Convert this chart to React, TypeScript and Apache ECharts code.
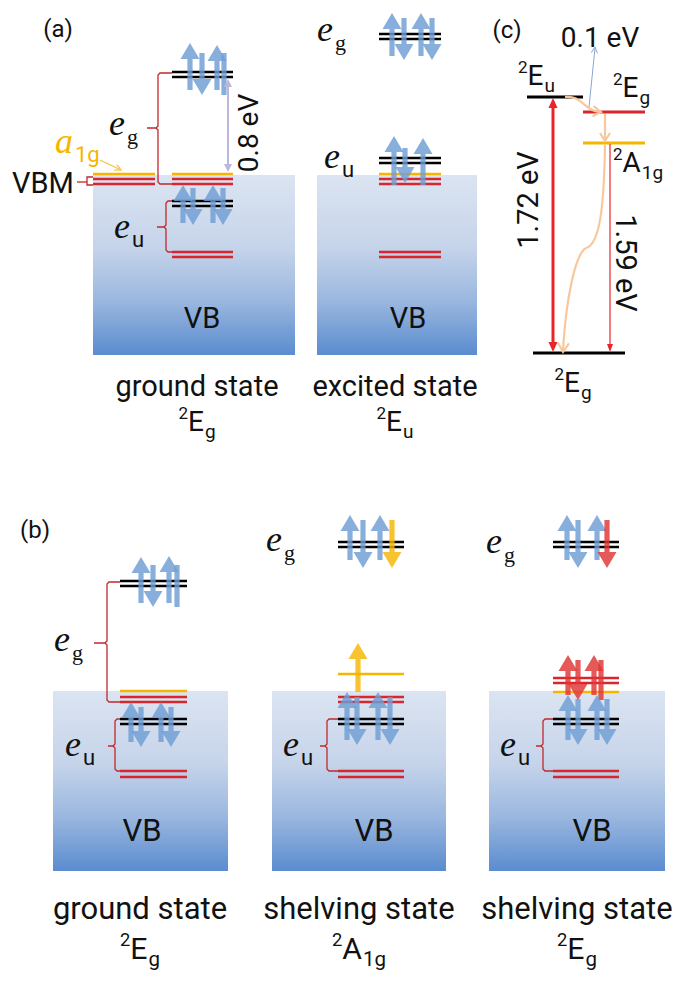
import React, { useEffect, useRef } from "react";
import * as echarts from "echarts";

// ---------- content ----------
const panelTags = ["(a)", "(b)", "(c)"];
const statesA = ["ground state", "excited state"];
const termsA: [string, string][] = [["E", "g"], ["E", "u"]];
const statesB = ["ground state", "shelving state", "shelving state"];
const termsB: [string, string][] = [["E", "g"], ["A", "1g"], ["E", "g"]];
const gapLabels = ["0.8 eV", "0.1 eV", "1.72 eV", "1.59 eV"];
const termsC: [string, string][] = [["E", "u"], ["E", "g"], ["A", "1g"], ["E", "g"]];
const orbitalNames = ["g", "u", "1g"];

const SANS = "Roboto, 'Open Sans', sans-serif";
const SERIF = "'Liberation Serif', 'DejaVu Serif', serif";
const BLUE = "#6e9dd4";
const RED = "#d8262d";
const GOLD = "#f5b600";
const K = "#000000";
const Y = GOLD;
const R = RED;

let _ctx: any = null;
function tw(text: string, size: number, family: string, style = "normal") {
  if (!_ctx) _ctx = document.createElement("canvas").getContext("2d");
  _ctx.font = `${style} ${size}px ${family}`;
  return _ctx.measureText(text).width;
}

function txt(x: number, y: number, text: string, size: number, o: any = {}) {
  return {
    type: "text",
    z: 10,
    x,
    y,
    rotation: o.rot || 0,
    style: {
      text,
      fontSize: size,
      fontFamily: o.family || SANS,
      fontStyle: o.italic ? "italic" : "normal",
      fill: o.color || "#111",
      align: o.align || "left",
      verticalAlign: "middle",
    },
  };
}

function term(x: number, cy: number, main: string, sub: string, anchor: "left" | "center", scale = 1) {
  const s1 = 17 * scale, s2 = 28 * scale, s3 = 19 * scale;
  const w1 = tw("2", s1, SANS), w2 = tw(main, s2, SANS), w3 = tw(sub, s3, SANS);
  const total = w1 + w2 + w3 + 1;
  const x0 = anchor === "center" ? x - total / 2 : x;
  return [
    txt(x0, cy - 8 * scale, "2", s1),
    txt(x0 + w1, cy, main, s2),
    txt(x0 + w1 + w2 + 1, cy + 10 * scale, sub, s3),
  ];
}

function eLab(left: number, cy: number, sub: string, color = "#111", main = "e") {
  const s = 36;
  const w = tw(main, s, SERIF, "italic");
  const subFam = sub === "g" ? SERIF : SANS;
  return [
    txt(left, cy - 4, main, s, { family: SERIF, italic: true, color }),
    txt(left + w + 2, cy + 9, sub, 22, { family: subFam, color }),
  ];
}

function hline(x1: number, x2: number, y: number, color: string, lw = 2.5) {
  return { type: "line", z: 2, shape: { x1, y1: y, x2, y2: y }, style: { stroke: color, lineWidth: lw } };
}

function blockArrow(x: number, y1: number, y2: number, dir: string, color: string) {
  const hw = 9.5, hh = 16, sw = 2.6;
  let pts: number[][];
  if (dir === "up") {
    const t = y1;
    pts = [[x, t], [x + hw, t + hh], [x + sw, t + hh], [x + sw, y2], [x - sw, y2], [x - sw, t + hh], [x - hw, t + hh]];
  } else if (dir === "down") {
    const t = y2;
    pts = [[x, t], [x + hw, t - hh], [x + sw, t - hh], [x + sw, y1], [x - sw, y1], [x - sw, t - hh], [x - hw, t - hh]];
  } else {
    pts = [[x - sw, y1], [x + sw, y1], [x + sw, y2], [x - sw, y2]];
  }
  return { type: "polygon", z: 3, shape: { points: pts }, style: { fill: color, opacity: 0.82 } };
}

function tri(x: number, y: number, ang: number, len: number, wid: number, color: string) {
  const c = Math.cos(ang), s = Math.sin(ang);
  const bx = x - len * c, by = y - len * s;
  const px = -s * wid / 2, py = c * wid / 2;
  return { type: "polygon", z: 5, shape: { points: [[x, y], [bx + px, by + py], [bx - px, by - py]] }, style: { fill: color } };
}

function chev(x: number, y: number, ang: number, len: number, wid: number, color: string, lw: number) {
  const c = Math.cos(ang), s = Math.sin(ang);
  const bx = x - len * c, by = y - len * s;
  const px = -s * wid / 2, py = c * wid / 2;
  return { type: "polyline", z: 5, shape: { points: [[bx + px, by + py], [x, y], [bx - px, by - py]] }, style: { stroke: color, lineWidth: lw, fill: null } };
}

function seg(x1: number, y1: number, x2: number, y2: number, color: string, lw: number) {
  return { type: "line", z: 5, shape: { x1, y1, x2, y2 }, style: { stroke: color, lineWidth: lw } };
}

function brace(lx: number, vx: number, top: number, bot: number, mid: number, tickX: number) {
  const st = { stroke: "#c0282d", lineWidth: 1.3, fill: null };
  return [
    { type: "polyline", z: 4, shape: { points: [[lx, top], [vx + 2, top], [vx, top + 2], [vx, mid - 2], [vx - 2, mid], [tickX, mid]] }, style: st },
    { type: "polyline", z: 4, shape: { points: [[vx - 2, mid], [vx, mid + 2], [vx, bot - 2], [vx + 2, bot], [lx, bot]] }, style: st },
  ];
}

function grad() {
  return new echarts.graphic.LinearGradient(0, 0, 0, 1, [
    { offset: 0, color: "#dbe4f1" },
    { offset: 0.4, color: "#c6d4ea" },
    { offset: 0.7, color: "#9ab7df" },
    { offset: 1, color: "#5a8ccf" },
  ]);
}

// ---------- layout ----------
const boxes = [
  [93, 175, 202, 180],
  [317, 175, 160, 180],
  [53, 691, 175, 180],
  [272, 691, 174, 180],
  [489, 691, 176, 180],
];

const levelRows: [number, number, number, string][] = [
  // (a) ground
  [172, 233, 72, K], [172, 233, 77, K], [172, 233, 174, Y], [172, 233, 179, R], [172, 233, 184, R],
  [93, 155, 174, Y], [93, 155, 179, R], [93, 155, 184, R],
  [172, 233, 201, K], [172, 233, 206, K], [172, 233, 252, R], [172, 233, 257, R],
  // (a) excited
  [379, 441, 34, K], [379, 441, 39, K], [379, 441, 158, K], [379, 441, 163, K],
  [379, 441, 174, Y], [379, 441, 179, R], [379, 441, 184, R], [379, 441, 252, R], [379, 441, 257, R],
  // (b) ground
  [120, 187, 581, K], [120, 187, 586, K], [120, 187, 691, Y], [120, 187, 697, R], [120, 187, 702, R],
  [120, 187, 719, K], [120, 187, 724, K], [120, 187, 771, R], [120, 187, 777, R],
  // (b) shelving 2A1g
  [338, 404, 542, K], [338, 404, 547, K], [338, 404, 674, Y], [338, 404, 697, R], [338, 404, 702, R],
  [338, 404, 719, K], [338, 404, 724, K], [338, 404, 771, R], [338, 404, 777, R],
  // (b) shelving 2Eg
  [553, 619, 542, K], [553, 619, 547, K], [553, 619, 678, R], [553, 619, 683, R], [553, 619, 692, Y],
  [553, 619, 719, K], [553, 619, 724, K], [553, 619, 771, R], [553, 619, 777, R],
];

const spins: [number, number, number, string, string][] = [
  // (a) ground eg
  [190, 43, 90, "up", BLUE], [202, 53, 95, "down", BLUE], [217, 45, 90, "up", BLUE], [224, 53, 95, "bar", BLUE],
  // (a) ground eu
  [183, 185, 223, "up", BLUE], [193, 188, 225, "down", BLUE], [213, 185, 223, "up", BLUE], [223, 188, 225, "down", BLUE],
  // (a) excited eg
  [392, 13, 56, "up", BLUE], [404, 18, 60, "down", BLUE], [421, 13, 56, "up", BLUE], [432, 18, 60, "down", BLUE],
  // (a) excited eu
  [394, 136, 185, "up", BLUE], [405, 148, 183, "down", BLUE], [423, 138, 185, "up", BLUE],
  // (b) ground eg
  [141, 557, 603, "up", BLUE], [153, 565, 607, "down", BLUE], [169, 556, 603, "up", BLUE], [177, 565, 607, "bar", BLUE],
  // (b) ground eu
  [131, 702, 742, "up", BLUE], [141, 707, 747, "down", BLUE], [161, 702, 742, "up", BLUE], [171, 707, 747, "down", BLUE],
  // (b) 2A1g eg
  [350, 515, 560, "up", BLUE], [363, 520, 568, "down", BLUE], [380, 515, 560, "up", BLUE], [392, 520, 568, "down", GOLD],
  [358, 643, 692, "up", GOLD],
  [347, 692, 740, "up", BLUE], [357, 697, 745, "down", BLUE], [378, 692, 740, "up", BLUE], [390, 697, 745, "down", BLUE],
  // (b) 2Eg
  [567, 515, 560, "up", BLUE], [578, 520, 568, "down", BLUE], [597, 515, 560, "up", BLUE], [607, 520, 568, "down", "#e03535"],
  [568, 655, 695, "up", "#e03535"], [578, 660, 700, "down", "#e03535"], [594, 655, 695, "up", "#e03535"], [601, 660, 700, "bar", "#e03535"],
  [568, 695, 740, "up", BLUE], [578, 699, 745, "down", BLUE], [597, 695, 740, "up", BLUE], [607, 699, 745, "down", BLUE],
];

function build() {
  const els: any[] = [];
  boxes.forEach((b) => els.push({ type: "rect", z: 1, shape: { x: b[0], y: b[1], width: b[2], height: b[3] }, style: { fill: grad() } }));
  levelRows.forEach((l) => els.push(hline(l[0], l[1], l[2], l[3])));
  spins.forEach((s) => els.push(blockArrow(s[0], s[1], s[2], s[3], s[4])));

  // braces
  els.push(...brace(172, 158, 73, 184, 128, 147));
  els.push(...brace(172, 166, 201, 252, 227, 157));
  els.push(...brace(120, 107, 582, 702, 643, 94));
  els.push(...brace(120, 115, 719, 771, 746, 108));
  els.push(...brace(338, 327, 719, 771, 746, 320));
  els.push(...brace(553, 543, 719, 771, 746, 536));
  // VBM bracket
  els.push(seg(77, 182, 87, 182, "#c0282d", 1.3));
  els.push({ type: "polyline", z: 4, shape: { points: [[93, 177], [87, 177], [87, 185], [93, 185]] }, style: { stroke: "#c0282d", lineWidth: 1.3, fill: null } });

  // panel tags
  els.push(txt(58, 29, panelTags[0], 24, { align: "center" }));
  els.push(txt(35, 530, panelTags[1], 24, { align: "center" }));
  els.push(txt(507, 30, panelTags[2], 24, { align: "center" }));

  // VB texts
  [[202, 318], [408, 318]].forEach((p) => els.push(txt(p[0], p[1], "VB", 29, { align: "center" })));
  [[142, 830], [374, 830], [592, 830]].forEach((p) => els.push(txt(p[0], p[1], "VB", 31, { align: "center" })));
  els.push(txt(12, 183, "VBM", 29));

  // orbital labels
  els.push(...eLab(109, 127, orbitalNames[0]));
  els.push(...eLab(114, 230, orbitalNames[1]));
  els.push(...eLab(317, 33, orbitalNames[0]));
  els.push(...eLab(324, 160, orbitalNames[1]));
  els.push(...eLab(54, 643, orbitalNames[0]));
  els.push(...eLab(65, 748, orbitalNames[1]));
  els.push(...eLab(266, 543, orbitalNames[0]));
  els.push(...eLab(283, 748, orbitalNames[1]));
  els.push(...eLab(486, 545, orbitalNames[0]));
  els.push(...eLab(500, 748, orbitalNames[1]));
  els.push(...eLab(55, 145, orbitalNames[2], GOLD, "a"));
  els.push(seg(100, 160, 121, 170, "#f5c242", 1.2));
  els.push(chev(121, 170, Math.atan2(10, 21), 6, 6, "#f5c242", 1.2));

  // 0.8 eV
  els.push(seg(228, 86, 228, 165, "#bdb6dd", 2));
  els.push(tri(228, 79, -Math.PI / 2, 8, 8, "#bdb6dd"));
  els.push(tri(228, 172, Math.PI / 2, 8, 8, "#bdb6dd"));
  els.push(txt(248, 133, gapLabels[0], 28, { align: "center", rot: Math.PI / 2 }));

  // state labels
  [197, 395].forEach((x, i) => {
    els.push(txt(x, 386, statesA[i], 29, { align: "center" }));
    els.push(...term(x, 421, termsA[i][0], termsA[i][1], "center"));
  });
  [140, 359, 577].forEach((x, i) => {
    els.push(txt(x, 908, statesB[i], 31, { align: "center" }));
    els.push(...term(x, 948, termsB[i][0], termsB[i][1], "center", 1.08));
  });

  // ---- panel (c) ----
  els.push(hline(527, 583, 97, K, 3));
  els.push(hline(583, 645, 112, R, 3));
  els.push(hline(583, 645, 143, Y, 3));
  els.push(hline(533, 625, 353, K, 3));
  els.push(...term(518, 75, termsC[0][0], termsC[0][1], "left"));
  els.push(...term(613, 87, termsC[1][0], termsC[1][1], "left"));
  els.push(...term(613, 162, termsC[2][0], termsC[2][1], "left"));
  els.push(...term(573, 382, termsC[3][0], termsC[3][1], "center"));
  // 1.72 eV
  els.push(seg(553, 106, 553, 344, "#e8262a", 3));
  els.push(tri(553, 98, -Math.PI / 2, 10, 9, "#e8262a"));
  els.push(tri(553, 352, Math.PI / 2, 10, 9, "#e8262a"));
  els.push(txt(528, 200, gapLabels[2], 29, { align: "center", rot: Math.PI / 2 }));
  // 1.59 eV
  els.push(seg(610, 144, 610, 346, "#e8262a", 1.2));
  els.push(tri(610, 352, Math.PI / 2, 8, 6, "#e8262a"));
  els.push(txt(626, 263, gapLabels[3], 29, { align: "center", rot: -Math.PI / 2 }));
  // 0.1 eV
  els.push(seg(589, 107, 595, 48, "#8aa7cf", 1));
  els.push(chev(595, 47, Math.atan2(-60, 6), 6, 6, "#8aa7cf", 1));
  els.push(txt(600, 37, gapLabels[1], 28, { align: "center" }));
  // relaxation path
  const P = "#f8c89c";
  els.push({ type: "bezierCurve", z: 5, shape: { x1: 565, y1: 97, cpx1: 582, cpy1: 95, cpx2: 584, cpy2: 111, x2: 600, y2: 112 }, style: { stroke: P, lineWidth: 2.2, fill: null } });
  els.push(chev(601, 112, 0.1, 8, 10, P, 2.2));
  els.push(seg(605, 114, 605, 140, P, 2.2));
  els.push(chev(605, 141, Math.PI / 2, 8, 10, P, 2.2));
  els.push({ type: "bezierCurve", z: 5, shape: { x1: 605, y1: 145, cpx1: 604, cpy1: 200, cpx2: 601, cpy2: 244, x2: 586, y2: 248 }, style: { stroke: P, lineWidth: 2.2, fill: null } });
  els.push({ type: "bezierCurve", z: 5, shape: { x1: 586, y1: 248, cpx1: 575, cpy1: 254, cpx2: 566, cpy2: 300, x2: 563, y2: 350 }, style: { stroke: P, lineWidth: 2.2, fill: null } });
  els.push(chev(563, 352, Math.PI / 2 + 0.05, 9, 11, P, 2.2));

  return els;
}

export default function App() {
  const ref = useRef<HTMLDivElement>(null);
  useEffect(() => {
    document.body.style.margin = "0";
    const chart = echarts.init(ref.current!, undefined, { renderer: "svg" });
    chart.setOption({
      animation: false,
      backgroundColor: "#ffffff",
      graphic: { elements: build() },
    });
    return () => chart.dispose();
  }, []);
  return <div ref={ref} style={{ width: 681, height: 982 }} />;
}
